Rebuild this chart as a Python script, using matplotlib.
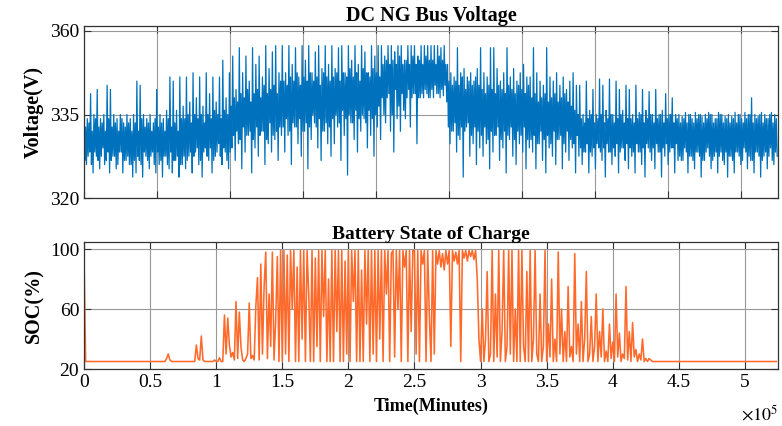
import numpy as np
import matplotlib.pyplot as plt

plt.rcParams['font.family'] = ['Liberation Serif', 'DejaVu Serif']
plt.rcParams['mathtext.fontset'] = 'stix'

volt_step = 625   # minutes between voltage samples
soc_step = 1250   # minutes between SOC samples

# DC NG bus voltage (axis units, 60 samples per row)
volt = [
    346,329,337,328, 339,330,338,331, 345,328,336,326, 340,331,339,330, 346,329,337,327, 339,330,338,332, 340,328,336,329, 347,331,339,326,
    346,329,337,330, 340,330,338,327, 339,328,336,331, 340,331,339,326, 338,329,337,329, 340,330,338,328, 339,328,336,325,
    340,329,338,326, 348,330,336,329, 347,328,339,325, 340,331,337,330, 339,329,338,327, 340,330,336,331, 338,328,339,326, 346,331,337,328,
    340,329,338,325, 339,330,336,330, 341,328,339,327, 349,331,337,326, 348,329,338,329, 341,330,336,325, 349,328,339,328,
    342,330,339,327, 349,329,340,330, 343,331,338,326, 350,330,340,331, 344,332,339,328, 349,329,340,325, 342,331,338,332, 350,330,340,329,
    345,332,339,326, 349,329,341,330, 343,331,340,333, 349,330,339,328, 353,332,341,331, 344,329,340,327, 350,331,342,332,
    354,335,344,329, 346,336,343,333, 356,334,345,327, 350,337,344,331, 354,335,346,335, 348,336,343,326, 356,334,345,332, 352,337,346,330,
    354,335,344,336, 349,336,347,328, 356.5,334,345,333, 351,338,346,331, 355,335,347,334, 356.5,336,345,329, 350,337,348,335,
    356.5,337,348,331, 350,339,347,335, 356.5,336,349,328, 352,338,348,337, 356,337,350,333, 349,339,347,330, 356.5,336,349,336, 353,338,348,327,
    356.5,337,350,334, 350,340,348,338, 355,337,349,332, 356.5,339,347,329, 351,336,350,336, 356.5,338,349,333, 352,337,348,330,
    356.5,339,349,333, 351,340,350,337, 356,338,348,329, 356.5,341,350,335, 350,339,349,325.5, 356.5,340,351,338, 353,338,349,334, 356.5,341,350,331,
    352,339,348,336, 356.5,340,351,339, 355,338,350,332, 350,341,349,335, 356.5,339,351,330, 354,340,350,337, 356.5,342,349,334,
    356.5,344,352,340, 354,338,353,344, 356.5,345,352,336, 356.5,340,353,331, 355,346,352,339, 356.5,342,354,336, 356.5,345,352,341, 353,339,353,344,
    356.5,346,352,337, 356.5,344,354,345, 356.5,345,352,333, 354,344,353,344, 356.5,345,352,344, 356.5,346,354,345, 356.5,344,353,344,
    356.5,346,353,344, 356.5,347,352,345, 356.5,345,354,344, 356,346,353,344.5, 356.5,347,352,343, 352,337,348,333, 350,336,347,336, 349,338,348,331,
    356,335,347,334, 350,337,349,325, 351,336,346,337, 349,338,348,330, 350,335,347,333, 348,337,349,328, 351,336,347,332,
    356,335,346,330, 350,337,345,333, 349,334,347,327, 356,336,346,331, 356,335,345,335, 351,337,347,329, 348,334,346,332, 350,336,345,326,
    356,335,347,334, 349,337,346,330, 351,334,345,328, 348,336,347,333, 350,335,346,331, 352,337,345,327, 349,334,347,332,
    349,334,344,331, 356,335,345,327, 350,333,343,333, 348,336,344,329, 347,334,345,326, 356,335,343,332, 349,333,344,330, 348,336,345,328,
    350,334,343,334, 347,335,344,327, 349,333,345,331, 346,336,343,329, 348,334,342,332, 350,333,341,326, 347,335,340,330,
    347,332,339,328, 340,331,338,331, 348,333,339,326, 341,331,340,330, 346,332,338,327, 340,333,339,332, 348.5,331,340,329, 347,332,338,325,
    341,333,339,331, 348.5,331,340,328, 340,332,338,330, 348,333,339,326, 346,331,340,332, 341,332,338,329, 347,333,339,327,
    346,332,339,330, 340,331,338,326, 347,333,339,331, 340.5,331,340,328, 346,332,338,325, 341,333,339,332, 345.5,331,340,329, 340,332,338,327,
    346,333,339,331, 340,331,340,325, 341,332,338,330, 345,333,339,328, 340,331,340,332, 344,332,338,326, 340,333,339,329,
    340,330,338,329, 339.5,329,339,332, 340.5,331,338,326, 340,330,340,330, 339,329,338,327, 340.5,331,339,331, 340,330,340,325, 339.5,329,338,329,
    340,331,339,332, 340.5,330,340,327, 340,329,338,330, 339,331,339,326, 340.5,330,340,331, 340,329,338,328, 339.5,331,339,325,
    340,330,338,330, 339.5,329,339,326, 340.5,331,338,331, 340,330,340,328, 339,329,338,332, 340.5,331,339,327, 340,330,340,329, 344,329,338,326,
    340,331,339,331, 339.5,330,340,325, 340.5,329,338,330, 340,331,339,327, 339,330,340,332, 340.5,329,338,328, 340,331,339,330,
]

# battery state of charge (%), 30 samples per row
soc = [
    95,25,25,25,25,25,25,25,25,25,25,25,25,25,25,25,25,25,25,25,25,25,25,25,25,25,25,25,25,25,
    25,25,25,25,25,25,25,25,25,25,25,25,25,25,25,25,25,25,25,25,27,30,26,25,25,25,25,25,25,25,
    25,25,25,25,25,25,25,25,36,27,26,42,26,25,25,25,25,25,25,26,25,25,27.5,25,25,56,30,54,36,28,
    31,26,65,27,58,35,26,25,27,30,64,27,29,26,62,81,26,90,30,75,98,27,70,35,98,26,52,95,25,99,
    25,99,30,96,25,99,60,99,25,88,25,99,40,99,25,99,70,25,99,25,94,35,99,25,99,55,99,25,80,25,
    99,25,99,45,99,25,99,25,92,30,99,25,99,65,99,25,99,25,86,25,99,50,99,25,99,30,99,25,99,40,
    99,25,99,70,99,25,97,99,28,99,60,99,25,99,88,99,25,99,45,99,99,30,99,25,99,90,99,25,99,55,
    25,99,30,99,90,99,88,97,86,99,90,99,35,99,92,98,90,99,25,99,94,99,92,99,95,99,93,99,80,40,
    25,60,25,40,85,25,30,99,25,70,28,99,25,45,99,25,35,99,30,99,25,60,25,99,25,99,35,25,85,25,
    99,25,40,99,30,25,70,25,35,99,25,50,28,80,25,40,25,98,30,60,25,45,25,75,28,35,25,97,30,50,
    25,65,25,40,85,25,30,55,25,35,70,25,45,28,60,25,32,25,50,27,38,25,70,28,44,25,30,27,75,26,
    45,25,51,28,33,25,30,26,40,25,27,25,27,26,25,25,25,25,25,25,25,25,25,25,25,25,25,25,25,25,
    25,25,25,25,25,25,25,25,25,25,25,25,25,25,25,25,25,25,25,25,25,25,25,25,25,25,25,25,25,25,
    25,25,25,25,25,25,25,25,25,25,25,25,25,25,25,25,25,25,25,25,25,25,25,25,25,25,25,25,25,25,
]

t_volt = np.arange(len(volt)) * volt_step
t_soc = np.arange(len(soc)) * soc_step

volt_ticks = [320, 340, 360]
volt_tick_labels = ['320', '335', '360']
soc_ticks = [20, 60, 100]
x_ticks = [0, 50000, 100000, 150000, 200000, 250000, 300000, 350000, 400000, 450000, 500000]
x_tick_labels = ['0', '0.5', '1', '1.5', '2', '2.5', '3', '3.5', '4', '4.5', '5']
top_grid = [55220 * k for k in range(10)]

fig = plt.figure(figsize=(7.82, 4.26), dpi=100)
ax1 = fig.add_axes([0.1074, 0.5352, 0.8875, 0.4038])
ax2 = fig.add_axes([0.1074, 0.1338, 0.8875, 0.2981])

ax1.plot(t_volt, volt, color='#0072BD', lw=0.9)
ax1.set_xlim(0, 525000)
ax1.set_ylim(320, 361.2)
ax1.set_yticks(volt_ticks)
ax1.set_yticklabels(volt_tick_labels)
ax1.set_xticks(top_grid)
ax1.set_xticklabels([])
ax1.set_title('DC NG Bus Voltage', fontsize=14.5, fontweight='bold', pad=2)
ax1.set_ylabel('Voltage(V)', fontsize=14.5, fontweight='bold', labelpad=4)

ax2.plot(t_soc, soc, color='#FF6A2B', lw=1.15)
ax2.set_xlim(0, 525000)
ax2.set_ylim(20, 104.7)
ax2.set_yticks(soc_ticks)
ax2.set_xticks(x_ticks)
ax2.set_xticklabels(x_tick_labels)
ax2.set_title('Battery State of Charge', fontsize=14, fontweight='bold', pad=2)
ax2.set_ylabel('SOC(%)', fontsize=14.5, fontweight='bold', labelpad=4)
ax2.set_xlabel('Time(Minutes)', fontsize=13, fontweight='bold', labelpad=5)
ax2.text(1.0, -0.36, r'$\times10^{5}$', transform=ax2.transAxes, ha='right', va='center', fontsize=13)

for ax in (ax1, ax2):
    ax.grid(True, color='#999999', lw=0.8)
    ax.tick_params(direction='in', top=True, right=True, labelsize=14, length=5, color='#333333')
    for s in ax.spines.values():
        s.set_color('#333333')
        s.set_linewidth(0.9)

plt.savefig('out.png')
